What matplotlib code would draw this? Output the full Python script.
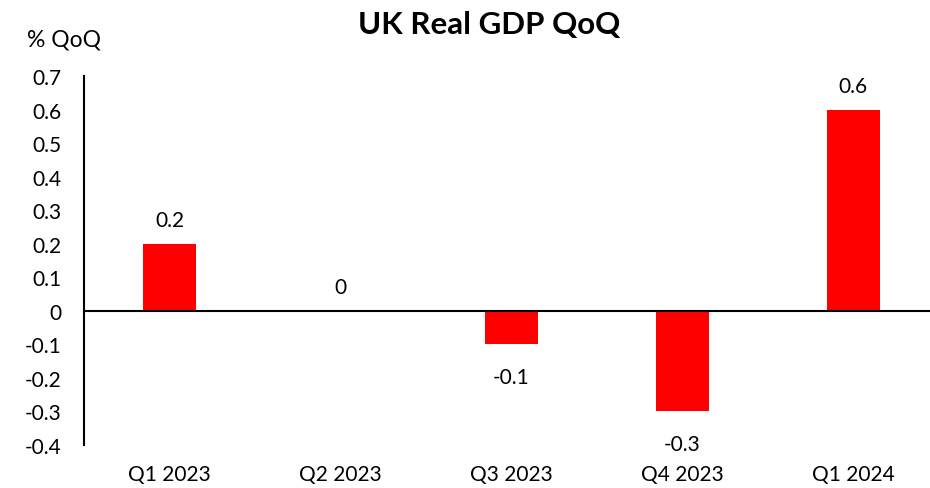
import matplotlib
matplotlib.use("Agg")
import matplotlib.pyplot as plt

categories = ["Q1 2023", "Q2 2023", "Q3 2023", "Q4 2023", "Q1 2024"]
values = [0.2, 0.0, -0.1, -0.3, 0.6]
yticks = [-0.4, -0.3, -0.2, -0.1, 0, 0.1, 0.2, 0.3, 0.4, 0.5, 0.6, 0.7]
ytick_labels = ["-0.4", "-0.3", "-0.2", "-0.1", "0", "0.1", "0.2", "0.3", "0.4", "0.5", "0.6", "0.7"]

plt.rcParams['font.family'] = ['Lato', 'DejaVu Sans']

fig = plt.figure(figsize=(9.3, 4.89), dpi=100)
ax = fig.add_axes([84/930, 1-446/489, 1-84/930, (446-77)/489])

x = list(range(len(categories)))
ax.bar(x, values, width=0.31, color="#ff0000")
ax.axhline(0, color="black", lw=1.5, zorder=3)
ax.set_xlim(-0.5, 4.45)
ax.set_ylim(-0.4, 0.7)
ax.set_yticks(yticks)
ax.set_yticklabels(ytick_labels, fontsize=15)
ax.set_xticks(x)
ax.set_xticklabels(categories, fontsize=15)
ax.tick_params(axis='both', length=0)
ax.tick_params(axis='y', pad=16)
ax.tick_params(axis='x', pad=14)
for s in ["top", "right", "bottom"]:
    ax.spines[s].set_visible(False)
ax.spines["left"].set_linewidth(1.5)

for xi, v in zip(x, values):
    lab = "0" if v == 0 else f"{v:g}"
    if v >= 0:
        ax.annotate(lab, (xi, v), xytext=(0, 10), textcoords="offset points",
                    ha="center", va="bottom", fontsize=15)
    else:
        ax.annotate(lab, (xi, v), xytext=(0, -16), textcoords="offset points",
                    ha="center", va="top", fontsize=15)

fig.text(489/930, 1-25/489, "UK Real GDP QoQ", ha="center", va="center",
         fontsize=22.5, fontweight="bold")
fig.text(27/930, 1-40/489, "% QoQ", ha="left", va="center", fontsize=16.5)

fig.savefig("out.png", dpi=100)
